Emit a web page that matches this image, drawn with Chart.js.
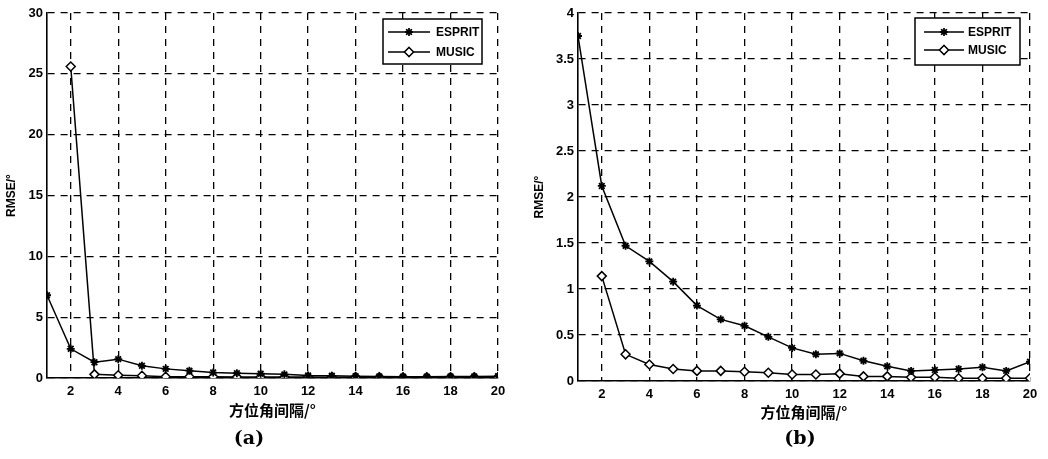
<!DOCTYPE html>
<html><head><meta charset="utf-8">
<script src="https://cdn.jsdelivr.net/npm/chart.js@4.4.1/dist/chart.umd.min.js"></script>
<style>
html,body{margin:0;padding:0;background:#fff;width:1048px;height:459px;overflow:hidden;}
.wrap{position:absolute;top:0;height:459px;width:524px;}
canvas{display:block;}
.cap{position:absolute;font-family:"DejaVu Serif","Liberation Serif",serif;font-weight:bold;font-size:19px;color:#000;transform:translate(-50%,-50%);top:437px;}
</style></head>
<body>
<div class="wrap" style="left:0"><canvas id="ca" width="524" height="459"></canvas></div>
<div class="wrap" style="left:524px"><canvas id="cb" width="524" height="459"></canvas></div>
<div class="cap" style="left:249px">(a)</div>
<div class="cap" style="left:800px">(b)</div>
<script>
const xValues = [1,2,3,4,5,6,7,8,9,10,11,12,13,14,15,16,17,18,19,20];
const xTickValues = [2,4,6,8,10,12,14,16,18,20];
const xTitle = '方位角间隔/°';
const yTitle = 'RMSE/°';
const seriesNames = ['ESPRIT','MUSIC'];

// chart (a)
const espritA = [6.8,2.4,1.3,1.55,1.0,0.75,0.6,0.45,0.4,0.35,0.3,0.2,0.18,0.15,0.12,0.1,0.1,0.12,0.12,0.15];
const musicA  = [null,25.6,0.3,0.22,0.18,0.1,0.1,0.1,0.08,0.08,0.08,0.08,0.07,0.07,0.06,0.06,0.06,0.06,0.06,0.06];
// chart (b)
const espritB = [3.75,2.12,1.47,1.3,1.08,0.82,0.67,0.6,0.48,0.36,0.29,0.3,0.22,0.16,0.11,0.12,0.13,0.15,0.11,0.21];
const musicB  = [null,1.14,0.29,0.18,0.13,0.11,0.11,0.1,0.09,0.07,0.07,0.08,0.05,0.05,0.04,0.04,0.03,0.03,0.03,0.03];

const FONT = '"Liberation Sans", Arial, sans-serif';

function pts(vals){ return xValues.map((x,i)=>({x:x, y:vals[i]})); }

function legendPlugin(box){
  return {
    id:'boxLegend',
    afterDraw(chart){
      const ctx = chart.ctx;
      const ds = chart.data.datasets;
      ctx.save();
      ctx.fillStyle = '#fff';
      ctx.fillRect(box.x, box.y, box.w, box.h);
      ctx.strokeStyle = '#000'; ctx.lineWidth = 1.5; ctx.setLineDash([]);
      ctx.strokeRect(box.x, box.y, box.w, box.h);
      ds.forEach((d,i)=>{
        const y = box.rows[i];
        ctx.beginPath(); ctx.moveTo(box.l0, y); ctx.lineTo(box.l1, y);
        ctx.strokeStyle = '#000'; ctx.lineWidth = 1.3; ctx.stroke();
        Chart.helpers.drawPoint(ctx, {pointStyle:d.pointStyle, radius:d.pointRadius, borderWidth:d.pointBorderWidth, rotation:0}, (box.l0+box.l1)/2, y);
        ctx.fillStyle = d.pointBackgroundColor; ctx.strokeStyle='#000';
        ctx.fill(); ctx.stroke();
        ctx.fillStyle = '#000';
        ctx.font = 'bold 12px ' + FONT;
        ctx.textBaseline = 'middle'; ctx.textAlign = 'left';
        ctx.fillText(d.label, box.tx, y+0.5);
      });
      ctx.restore();
    }
  };
}

function makeChart(id, esp, mus, yMax, yStep, padRight, yWidth, xHeight, yTitlePad, xTitlePad, box){
  return new Chart(document.getElementById(id), {
    type:'line',
    data:{ datasets:[
      {label:seriesNames[0], data:pts(esp), borderColor:'#000', borderWidth:1.5, pointStyle:'star', pointRadius:4, pointBorderWidth:1.8, pointBackgroundColor:'#000', pointBorderColor:'#000', tension:0},
      {label:seriesNames[1], data:pts(mus), borderColor:'#000', borderWidth:1.5, pointStyle:'rectRot', pointRadius:4.5, pointBorderWidth:1.5, pointBackgroundColor:'#fff', pointBorderColor:'#000', tension:0}
    ]},
    options:{
      responsive:false, animation:false, events:[],
      layout:{padding:{left:0, right:padRight, top:13, bottom:0}},
      plugins:{legend:{display:false}, tooltip:{enabled:false}},
      scales:{
        x:{ type:'linear', min:1, max:20,
          afterBuildTicks(s){ s.ticks = xTickValues.map(v=>({value:v})); },
          afterFit(s){ s.height = xHeight; },
          grid:{color:'#000', lineWidth:1.3, drawTicks:false},
          border:{display:true, color:'#000', width:1.6, dash:[7,6]},
          ticks:{color:'#000', font:{family:FONT, size:13, weight:'bold'}, padding:6, maxRotation:0, autoSkip:false},
          title:{display:true, text:xTitle, color:'#000', font:{family:'"Noto Sans CJK SC", sans-serif', size:15, weight:'bold'}, padding:{top:0, bottom:xTitlePad}}
        },
        y:{ type:'linear', min:0, max:yMax,
          ticks:{stepSize:yStep, color:'#000', font:{family:FONT, size:13, weight:'bold'}, padding:4,
                 callback:(v)=>String(Math.round(v*10)/10)},
          afterFit(s){ s.width = yWidth; },
          grid:{color:'#000', lineWidth:1.3, drawTicks:false},
          border:{display:true, color:'#000', width:1.6, dash:[7,6]},
          title:{display:true, text:yTitle, color:'#000', font:{family:FONT, size:12, weight:'bold'}, padding:{top:yTitlePad, bottom:0}}
        }
      }
    },
    plugins:[legendPlugin(box)]
  });
}

makeChart('ca', espritA, musicA, 30, 5, 26, 47, 81, 4, 40,
  {x:383, y:19, w:99, h:45, rows:[32,52], l0:388, l1:430, tx:436});
makeChart('cb', espritB, musicB, 4, 0.5, 18, 54, 78, 8, 38,
  {x:391, y:18, w:105, h:47, rows:[32,50], l0:400, l1:440, tx:444});
</script>
</body></html>
